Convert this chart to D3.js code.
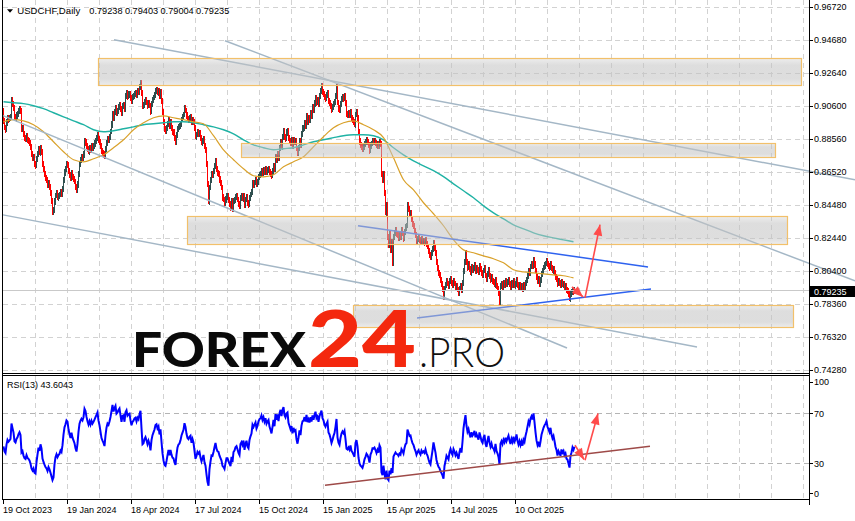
<!DOCTYPE html>
<html><head><meta charset="utf-8">
<script src="https://cdn.jsdelivr.net/npm/d3@7"></script>
<style>html,body{margin:0;padding:0;background:#fff;overflow:hidden}svg{display:block}</style>
</head><body><svg id="c" width="855" height="521"></svg>
<script>
// ---------------- DATA ----------------
const symbolTitle = "USDCHF,Daily";
const ohlcTitle = ["0.79238", "0.79403", "0.79004", "0.79235"];
const lastPrice = 0.79235;
const priceTicks = [0.96720, 0.94680, 0.92640, 0.90600, 0.88560, 0.86520, 0.84480, 0.82440, 0.80400, 0.78360, 0.76320, 0.74280];
const dateLabels = ["19 Oct 2023", "19 Jan 2024", "18 Apr 2024", "17 Jul 2024", "15 Oct 2024", "15 Jan 2025", "15 Apr 2025", "14 Jul 2025", "10 Oct 2025"];
const dateLabelIdx = [0, 64, 128, 192, 256, 320, 384, 448, 512];
const rsiPeriod = 13;
const rsiLabel = "RSI(13) 43.6043";
const rsiTicks = [100, 70, 30, 0];
const rsiLevels = [70, 30];
// daily closes, in 1/10000 (bars before the first visible one, for indicator warm-up)
const preCloses = [8930, 8945, 8975, 8975, 8975, 8990, 9015, 9055, 9055, 9115, 9140, 9180, 9155, 9150, 9190, 9195, 9165, 9120, 9110, 9060, 9035, 9015, 9075, 8990, 9010, 8995, 9025];
// visible daily closes, in 1/10000
const closes = [
8965,8925,8912,8958,8987,8975,8982,8990,9095,9070,
9045,8988,8980,9002,9012,9030,9042,9028,8915,8922,
8885,8862,8855,8872,8850,8842,8830,8805,8760,8738,
8745,8700,8690,8730,8760,8790,8770,8800,8775,8700,
8668,8640,8615,8600,8570,8585,8560,8520,8470,8405,
8415,8470,8505,8520,8495,8505,8510,8525,8515,8545,
8600,8648,8670,8700,8695,8660,8635,8615,8645,8620,
8605,8590,8560,8540,8575,8640,8700,8725,8742,8735,
8760,8845,8835,8810,8790,8775,8800,8785,8812,8800,
8812,8828,8845,8862,8880,8852,8835,8810,8782,8770,
8760,8745,8790,8830,8855,8850,8870,8900,8945,9010,
8985,9020,9045,9015,9025,9050,9065,9040,9015,9060,
9065,9040,9120,9140,9118,9130,9135,9110,9090,9112,
9120,9135,9140,9128,9150,9145,9175,9200,9140,9060,
9065,9085,9095,9080,9060,9075,9060,9025,9070,9095,
9110,9125,9150,9155,9140,9150,9120,9145,9090,9020,
8960,8915,8905,8925,8950,8975,8935,8960,8925,8900,
8895,8860,8838,8880,8915,8930,8935,8950,8975,8990,
9005,9045,9030,9000,8980,8975,8985,8990,8960,8975,
8960,8920,8870,8880,8895,8885,8890,8860,8835,8845,
8855,8810,8785,8700,8575,8470,8555,8600,8640,8635,
8660,8690,8720,8670,8645,8640,8605,8580,8555,8495,
8480,8455,8482,8505,8505,8480,8455,8430,8470,8420,
8470,8478,8495,8500,8480,8455,8440,8490,8500,8485,
8505,8450,8480,8495,8460,8450,8490,8510,8525,8580,
8570,8585,8600,8575,8590,8620,8635,8640,8660,8645,
8662,8648,8668,8650,8662,8670,8650,8640,8628,8655,
8690,8670,8745,8725,8765,8740,8800,8835,8810,8870,
8905,8870,8860,8895,8905,8860,8845,8830,8850,8815,
8850,8835,8840,8795,8770,8800,8845,8820,8885,8920,
8925,8955,8935,8995,8960,8985,8970,9015,8995,9050,
9030,9075,9110,9080,9095,9070,9120,9150,9180,9145,
9135,9115,9105,9125,9140,9090,9080,9060,9035,9050,
9070,9085,9120,9175,9080,9045,9030,9070,9100,9115,
9105,9120,9075,9010,9005,9015,9000,9020,8985,8975,
8960,8945,9005,9020,8985,8900,8840,8815,8805,8790,
8805,8825,8835,8848,8838,8820,8785,8815,8825,8840,
8838,8842,8830,8815,8825,8812,8835,8825,8640,8600,
8640,8520,8400,8450,8250,8200,8270,8170,8220,8090,
8250,8275,8295,8270,8265,8240,8260,8245,8290,8270,
8240,8280,8310,8320,8445,8420,8390,8395,8360,8330,
8315,8285,8260,8225,8240,8250,8230,8215,8235,8220,
8225,8215,8230,8205,8190,8165,8140,8125,8150,8175,
8210,8180,8150,8095,8060,8030,8015,7985,7960,7930,
7880,7930,7950,7975,7960,7945,7975,7990,7965,7950,
7975,7960,7935,7945,7925,7905,7930,7945,7920,7965,
8040,8095,8150,8095,8060,8080,8050,8030,8065,8045,
8055,8075,8040,8060,8045,8030,8070,8050,8025,8015,
8040,8055,8010,7990,8020,8045,8010,7985,8000,7975,
7970,7955,7985,7945,7930,7905,7845,7945,7960,7940,
7965,7950,7975,7955,7970,7985,7960,7940,7965,7950,
7975,7950,7960,7985,7955,7935,7950,7930,7945,7925,
7950,7940,7965,7985,8010,8040,8030,8065,8080,8070,
8110,8080,8040,8000,7975,7990,7960,7985,8020,8040,
8060,8075,8085,8100,8080,8070,8060,8080,8055,8040,
8050,8030,8005,7990,7960,7975,7965,7950,7970,7955,
7960,7940,7945,7920,7915,7895,7870,7900,7910,7925,
7915,7924
];
// moving averages read every 10 bars, in 1/10000
const maStep = 10;
const maFast = [8961,8974,8967,8943,8900,8838,8776,8727,8714,8733,8757,8801,8850,8912,8955,8986,8998,8986,8974,8961,8949,8875,8788,8727,8671,8628,8621,8634,8683,8714,8745,8807,8869,8924,8955,8967,8943,8912,8863,8739,8603,8541,8461,8393,8319,8232,8170,8152,8133,8115,8090,8047,8034,8028,8022,8016,8010,7997];
const maSlow = [9085,9079,9073,9060,9042,9017,8992,8967,8943,8912,8900,8906,8918,8930,8943,8949,8955,8961,8961,8955,8943,8930,8912,8887,8850,8819,8801,8788,8795,8801,8819,8838,8850,8863,8875,8881,8881,8875,8850,8801,8757,8720,8689,8659,8622,8578,8535,8492,8442,8399,8362,8325,8300,8275,8257,8244,8232,8220];
// zones: [startBar, endBar, upperPrice, lowerPrice]
const zones = [
  [95, 798, 0.93567, 0.91898],
  [238, 772, 0.88313, 0.87447],
  [184, 784, 0.83800, 0.82069],
  [350, 790, 0.78298, 0.76938]
];
// channel lines: [bar1, price1, bar2, price2]
const greyLines = [
  [111, 0.94680, 852, 0.86025],
  [222, 0.94618, 852, 0.79782],
  [0, 0.89993, 564, 0.75640],
  [0, 0.83862, 694, 0.75702]
];
const blueLines = [
  [355, 0.83196, 645, 0.80647],
  [414, 0.77495, 648, 0.79287]
];
const priceArrows = [
  [569, 0.79411, 580, 0.78793],
  [582, 0.78731, 597, 0.83258]
];
// RSI panel objects: [bar1, rsi1, bar2, rsi2]
const rsiTrend = [322, 12.4, 647, 43.6];
const rsiArrows = [
  [572, 44.4, 581, 33.0],
  [582, 32.5, 595, 69.8]
];
const brandParts = ["FOREX", "24", ".PRO"];

// ---------------- CHART ----------------
const svg = d3.select("#c");
const plotL = 2.5, plotR = 809.5;
const mainBot = 373.5, rsiTop = 375.5, rsiBot = 499.5;
const font = "'Liberation Sans', Arial, sans-serif";
const bull = "#2f4f4f", bear = "#ff0000";

const x = d3.scaleLinear().domain([0, 806]).range([3, 809]);
const y = d3.scaleLinear().domain([priceTicks[priceTicks.length - 1], priceTicks[0]]).range([370, 6.7]);
const yr = d3.scaleLinear().domain([0, 100]).range([500.8, 375.8]);

const defs = svg.append("defs");
defs.append("clipPath").attr("id", "clipMain").append("rect").attr("x", 3).attr("y", 0).attr("width", 806).attr("height", 373);
defs.append("clipPath").attr("id", "clipRsi").append("rect").attr("x", 3).attr("y", 376).attr("width", 806).attr("height", 123);
const grad = defs.append("linearGradient").attr("id", "zoneGrad").attr("x1", 0).attr("y1", 0).attr("x2", 0).attr("y2", 1);
[[0, 0.30], [0.25, 0.55], [0.75, 0.55], [1, 0.30]].forEach(([o, a]) =>
  grad.append("stop").attr("offset", o).attr("stop-color", "#c2c2c2").attr("stop-opacity", a));

svg.append("rect").attr("width", 855).attr("height", 521).attr("fill", "#fff");

// grid
const gridG = svg.append("g").attr("stroke", "#d2d2d2").attr("stroke-dasharray", "5,4").attr("shape-rendering", "crispEdges");
priceTicks.forEach(p => gridG.append("line").attr("x1", 3).attr("x2", 809).attr("y1", Math.round(y(p)) + 0.5).attr("y2", Math.round(y(p)) + 0.5));
for (let k = 32; k < 806; k += 32) {
  const xx = Math.round(x(k)) + 0.5;
  gridG.append("line").attr("x1", xx).attr("x2", xx).attr("y1", 0).attr("y2", 373);
  gridG.append("line").attr("x1", xx).attr("x2", xx).attr("y1", 376).attr("y2", 499);
}

// candles
const allC = preCloses.concat(closes).map(v => v / 1e4);
const P = preCloses.length;
const bars = closes.map((c, i) => ({ i, o: allC[P + i - 1], c: c / 1e4 }));
const wick = 3;
const mainG = svg.append("g").attr("clip-path", "url(#clipMain)");
mainG.append("g").attr("shape-rendering", "crispEdges").selectAll("rect").data(bars).join("rect")
  .attr("x", d => x(d.i)).attr("width", 1)
  .attr("y", d => Math.round(y(Math.max(d.o, d.c))) - wick)
  .attr("height", d => Math.max(1, Math.round(Math.abs(y(d.o) - y(d.c)))) + 2 * wick)
  .attr("fill", d => d.c >= d.o ? bull : bear);

// moving averages
const maLine = d3.line().x(d => x(d[0]) + 0.5).y(d => y(d[1])).curve(d3.curveMonotoneX);
const maPts = arr => arr.map((v, k) => [k * maStep, v / 1e4]);
mainG.append("path").attr("d", maLine(maPts(maSlow))).attr("fill", "none").attr("stroke", "#1fb2a4").attr("stroke-width", 1.4);
mainG.append("path").attr("d", maLine(maPts(maFast))).attr("fill", "none").attr("stroke", "#d9a12a").attr("stroke-width", 1.2);

// grey channel lines (extend over the price scale, like the reference)
greyLines.forEach(l => svg.append("line").attr("x1", x(l[0])).attr("y1", y(l[1])).attr("x2", x(l[2])).attr("y2", y(l[3]))
  .attr("stroke", "#a4b7c6").attr("stroke-width", 1.5));
blueLines.forEach(l => svg.append("line").attr("x1", x(l[0])).attr("y1", y(l[1])).attr("x2", x(l[2])).attr("y2", y(l[3]))
  .attr("stroke", "#2e62ef").attr("stroke-width", 1.5));

// zones on top (semi transparent)
zones.forEach(z => {
  const x0 = Math.round(x(z[0])) + 0.5, x1 = Math.round(x(z[1])) + 0.5;
  const y0 = Math.round(y(z[2])) + 0.5, y1 = Math.round(y(z[3])) + 0.5;
  svg.append("rect").attr("x", x0).attr("y", y0).attr("width", x1 - x0).attr("height", y1 - y0)
    .attr("fill", "url(#zoneGrad)").attr("stroke", "#f2c06a").attr("stroke-width", 1.2);
});

// bid line
const by = Math.round(y(lastPrice)) + 0.5;
svg.append("line").attr("x1", 3).attr("x2", 809).attr("y1", by).attr("y2", by).attr("stroke", "#c9c9c9").attr("stroke-width", 1);

// arrows
function arrow(g, x1, y1, x2, y2, color) {
  g.append("line").attr("x1", x1).attr("y1", y1).attr("x2", x2).attr("y2", y2).attr("stroke", color).attr("stroke-width", 1.6);
  const a = Math.atan2(y2 - y1, x2 - x1), L = 11, Wd = 4.5;
  const bx = x2 - L * Math.cos(a), byy = y2 - L * Math.sin(a);
  const pts = [[x2, y2], [bx + Wd * Math.sin(a), byy - Wd * Math.cos(a)], [bx - Wd * Math.sin(a), byy + Wd * Math.cos(a)]];
  g.append("polygon").attr("points", pts.map(p => p.join(",")).join(" ")).attr("fill", color);
}
const arrowColor = "#ff4b4b";
priceArrows.forEach(a => arrow(svg, x(a[0]), y(a[1]), x(a[2]), y(a[3]), arrowColor));

// RSI
function rsiCalc(vals, n) {
  const out = new Array(vals.length).fill(null);
  let g = 0, l = 0;
  for (let k = 1; k <= n; k++) { const d = vals[k] - vals[k - 1]; if (d > 0) g += d; else l -= d; }
  g /= n; l /= n; out[n] = l === 0 ? 100 : 100 - 100 / (1 + g / l);
  for (let k = n + 1; k < vals.length; k++) {
    const d = vals[k] - vals[k - 1];
    g = (g * (n - 1) + Math.max(d, 0)) / n; l = (l * (n - 1) + Math.max(-d, 0)) / n;
    out[k] = l === 0 ? 100 : 100 - 100 / (1 + g / l);
  }
  return out;
}
const rsiAll = rsiCalc(allC, rsiPeriod);
const rsiPts = closes.map((c, i) => [i, rsiAll[P + i]]);
const rsiG = svg.append("g").attr("clip-path", "url(#clipRsi)");
rsiLevels.forEach(v => rsiG.append("line").attr("x1", 3).attr("x2", 809).attr("y1", Math.round(yr(v)) + 0.5).attr("y2", Math.round(yr(v)) + 0.5)
  .attr("stroke", "#b4b4b4").attr("stroke-dasharray", "5,4"));
rsiG.append("path").attr("d", d3.line().x(d => x(d[0]) + 0.5).y(d => yr(d[1]))(rsiPts))
  .attr("fill", "none").attr("stroke", "#0000ff").attr("stroke-width", 2);
rsiG.append("line").attr("x1", x(rsiTrend[0])).attr("y1", yr(rsiTrend[1])).attr("x2", x(rsiTrend[2])).attr("y2", yr(rsiTrend[3]))
  .attr("stroke", "#9e4a48").attr("stroke-width", 1.5);
rsiArrows.forEach(a => arrow(svg, x(a[0]), yr(a[1]), x(a[2]), yr(a[3]), arrowColor));

// frame
const fr = svg.append("g").attr("stroke", "#000").attr("stroke-width", 1).attr("shape-rendering", "crispEdges");
fr.append("line").attr("x1", plotL).attr("x2", plotL).attr("y1", 0).attr("y2", rsiBot);
fr.append("line").attr("x1", plotR).attr("x2", plotR).attr("y1", 0).attr("y2", 505);
fr.append("line").attr("x1", plotL).attr("x2", plotR).attr("y1", mainBot).attr("y2", mainBot);
fr.append("line").attr("x1", plotL).attr("x2", plotR).attr("y1", rsiTop).attr("y2", rsiTop);
fr.append("line").attr("x1", plotL).attr("x2", plotR).attr("y1", rsiBot).attr("y2", rsiBot);

// price axis
const ax = svg.append("g").attr("font-family", font).attr("font-size", 9).attr("fill", "#000");
priceTicks.forEach(p => {
  const yy = Math.round(y(p)) + 0.5;
  fr.append("line").attr("x1", 809).attr("x2", 813).attr("y1", yy).attr("y2", yy);
  ax.append("text").attr("x", 814).attr("y", y(p) + 3.3).text(p.toFixed(5));
});
// current price box
svg.append("rect").attr("x", 810).attr("y", by - 4.5).attr("width", 45).attr("height", 11).attr("fill", "#000");
svg.append("text").attr("x", 814).attr("y", by + 4.3).attr("font-family", font).attr("font-size", 9).attr("fill", "#fff").text(lastPrice.toFixed(5));

// rsi axis
rsiTicks.forEach(v => {
  const yy = Math.min(Math.max(yr(v), 382), 493.3);
  fr.append("line").attr("x1", 809).attr("x2", 813).attr("y1", Math.round(yy) + 0.5).attr("y2", Math.round(yy) + 0.5);
  ax.append("text").attr("x", 814).attr("y", yy + 3.3).text(v);
});

// date axis
dateLabels.forEach((t, k) => {
  const xx = Math.round(x(dateLabelIdx[k])) + 0.5;
  fr.append("line").attr("x1", xx).attr("x2", xx).attr("y1", 500).attr("y2", 504);
  ax.append("text").attr("x", x(dateLabelIdx[k])).attr("y", 512.5).text(t);
});

// titles
svg.append("path").attr("d", "M7,9.3 L13,9.3 L10,12.7 Z").attr("fill", "#000");
svg.append("text").attr("x", 17.3).attr("y", 14).attr("font-family", font).attr("font-size", 9.6).attr("fill", "#000").text(symbolTitle);
ohlcTitle.forEach((t, k) => svg.append("text").attr("x", 89.3 + k * 35.6).attr("y", 14).attr("font-family", font)
  .attr("font-size", 9.2).attr("fill", "#000").text(t));
svg.append("text").attr("x", 7).attr("y", 388.3).attr("font-family", font).attr("font-size", 9).attr("fill", "#000").text(rsiLabel);

// watermark
const wm = svg.append("g").attr("font-family", "Lato, Inter, 'Open Sans', sans-serif");
wm.append("text").attr("x", 132).attr("y", 367).attr("font-size", 48).attr("font-weight", 900).attr("fill", "#0a0a0a")
  .attr("textLength", 174).attr("lengthAdjust", "spacingAndGlyphs").text(brandParts[0]);
wm.append("text").attr("x", 308).attr("y", 367).attr("font-size", 79).attr("font-weight", 900).attr("fill", "#f4280e")
  .attr("textLength", 108).attr("lengthAdjust", "spacingAndGlyphs").text(brandParts[1]);
wm.append("text").attr("x", 419).attr("y", 367).attr("font-size", 42).attr("font-weight", 300).attr("fill", "#111")
  .attr("textLength", 86).attr("lengthAdjust", "spacingAndGlyphs").text(brandParts[2]);
</script>
</body></html>
